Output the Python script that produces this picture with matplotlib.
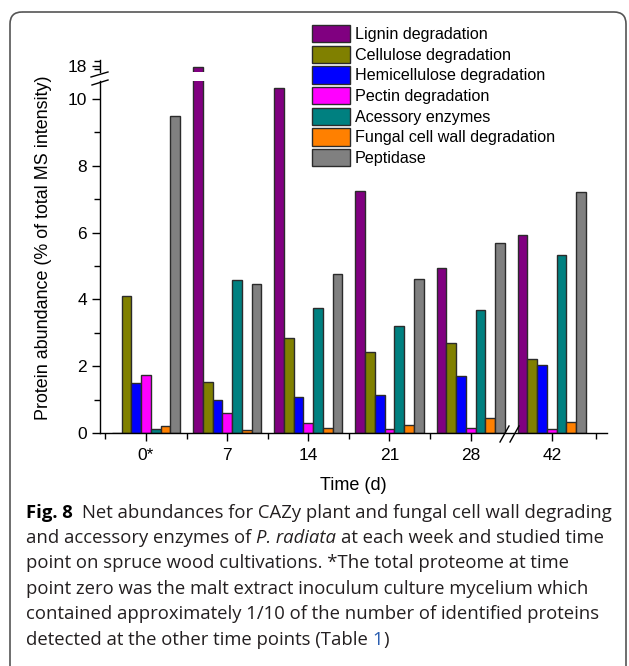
import numpy as np
import matplotlib.pyplot as plt
from matplotlib.patches import FancyBboxPatch
from matplotlib.ticker import FixedLocator

plt.rcParams['font.family'] = ['Liberation Sans', 'DejaVu Sans']

days = ['0*', '7', '14', '21', '28', '42']
series = ['Lignin degradation', 'Cellulose degradation', 'Hemicellulose degradation',
          'Pectin degradation', 'Acessory enzymes', 'Fungal cell wall degradation', 'Peptidase']
colors = ['#800080', '#808000', '#0000ff', '#ff00ff', '#008080', '#ff8000', '#808080']

lignin = [0, 17.9, 10.32, 7.26, 4.93, 5.93]
cellulose = [4.1, 1.54, 2.85, 2.43, 2.68, 2.22]
hemicellulose = [1.5, 0.98, 1.09, 1.13, 1.72, 2.03]
pectin = [1.75, 0.61, 0.31, 0.11, 0.16, 0.13]
accessory = [0.11, 4.59, 3.74, 3.2, 3.69, 5.32]
fungal = [0.2, 0.1, 0.14, 0.24, 0.44, 0.33]
peptidase = [9.5, 4.47, 4.75, 4.62, 5.69, 7.22]
values = [lignin, cellulose, hemicellulose, pectin, accessory, fungal, peptidase]

W, H = 629, 666
fig = plt.figure(figsize=(W / 100, H / 100), dpi=100)


def px(x, y, w, h):
    # pixel box (top-left origin) -> figure fraction
    return [x / W, 1 - (y + h) / H, w / W, h / H]


ax = fig.add_axes(px(100, 81, 507, 352))
axt = fig.add_axes(px(100, 59.5, 507, 12.5))

idx = np.arange(len(days))
bw = 0.12
for a in (ax, axt):
    for k, vals in enumerate(values):
        a.bar(idx + (k - 3) * bw, vals, bw, color=colors[k], edgecolor='#2b2b2b',
              linewidth=1.0, label=series[k])
    a.set_xlim(-0.567, 5.68)
    for s in ('top', 'right'):
        a.spines[s].set_visible(False)
    a.spines['left'].set_linewidth(1)
    a.spines['bottom'].set_linewidth(1)

ax.set_ylim(0, 10.54)
ax.set_yticks(range(0, 11, 2))
ax.yaxis.set_minor_locator(FixedLocator(range(1, 11, 2)))
ax.set_xticks(idx, days)
ax.xaxis.set_minor_locator(FixedLocator([-0.5, 0.5, 1.5, 2.5, 3.5, 5.55]))
ax.tick_params(which='major', direction='out', length=6, width=1, labelsize=12.5)
ax.tick_params(which='minor', direction='out', length=4, width=1)
ax.tick_params(axis='x', which='major', pad=5)

axt.set_ylim(17.5, 18.5)
axt.set_yticks([18])
axt.yaxis.set_minor_locator(FixedLocator([17.75, 18.35]))
axt.tick_params(which='major', direction='out', length=6, width=1, labelsize=12.5)
axt.tick_params(which='minor', direction='out', length=4, width=1)
axt.spines['bottom'].set_visible(False)
axt.xaxis.set_visible(False)
axt.patch.set_alpha(0)

# overlay in pixel units for frame, breaks, labels and caption
ov = fig.add_axes([0, 0, 1, 1], zorder=10)
ov.set_xlim(0, W)
ov.set_ylim(H, 0)
ov.axis('off')
ov.patch.set_alpha(0)

ov.add_patch(FancyBboxPatch((10, 12), 616, 700, boxstyle='round,pad=0,rounding_size=12',
                            fill=False, ec='#555555', lw=1.2, clip_on=False))

# axis break marks
ov.plot([91, 108], [77, 72], color='black', lw=1)
ov.plot([92, 108], [85, 80], color='black', lw=1)
ov.plot([500, 509], [442, 426], color='black', lw=1)
ov.plot([510, 519], [442, 426], color='black', lw=1)

ov.text(44, 248, 'Protein abundance (% of total MS intensity)', rotation=90,
        ha='center', va='center', fontsize=12.9)
ov.text(353, 485, 'Time (d)', ha='center', va='center', fontsize=13)

handles, labels = ax.get_legend_handles_labels()
fig.legend(handles, labels, loc='upper left', bbox_to_anchor=(312 / W, 1 - 25 / H),
           frameon=False, fontsize=11.6, handlelength=2.35, handleheight=1.26,
           labelspacing=0.22, handletextpad=0.3, borderpad=0, borderaxespad=0)

# caption
cap_font = dict(family=['Open Sans', 'DejaVu Sans'], fontsize=13.3)
txt_col = '#231f20'
lines = [
    [('Fig. 8', 'bold', 'normal', '#000000'), (' ', 'normal', 'normal', txt_col),
     (' ', 'normal', 'normal', txt_col),
     ('Net abundances for CAZy plant and fungal cell wall degrading', 'normal', 'normal', txt_col)],
    [('and accessory enzymes of', 'normal', 'normal', txt_col),
     ('P. radiata', 'normal', 'italic', txt_col),
     ('at each week and studied time', 'normal', 'normal', txt_col)],
    [('point on spruce wood cultivations. *The total proteome at time', 'normal', 'normal', txt_col)],
    [('point zero was the malt extract inoculum culture mycelium which', 'normal', 'normal', txt_col)],
    [('contained approximately 1/10 of the number of identified proteins', 'normal', 'normal', txt_col)],
    [('detected at the other time points (Table', 'normal', 'normal', txt_col),
     ('1', 'normal', 'normal', '#2a5db0'), (')', 'normal', 'normal', txt_col)],
]
line_y = [513, 538, 563, 589, 614, 640]

renderer = fig.canvas.get_renderer()


def width(s, weight='normal', style='normal'):
    t = ov.text(0, 0, s, fontweight=weight, fontstyle=style, **cap_font)
    w = t.get_window_extent(renderer).width
    t.remove()
    return w


space = width('a a') - width('aa')
for y, pieces in zip(line_y, lines):
    x = 26
    for i, (s, weight, style, col) in enumerate(pieces):
        if s == ' ':
            x += space
            continue
        if i > 0 and not s.startswith(')') and pieces[i - 1][0] != ' ':
            x += space
        ov.text(x, y, s, fontweight=weight, fontstyle=style, color=col,
                ha='left', va='center', **cap_font)
        x += width(s, weight, style)

fig.savefig('out.png', dpi=100)
